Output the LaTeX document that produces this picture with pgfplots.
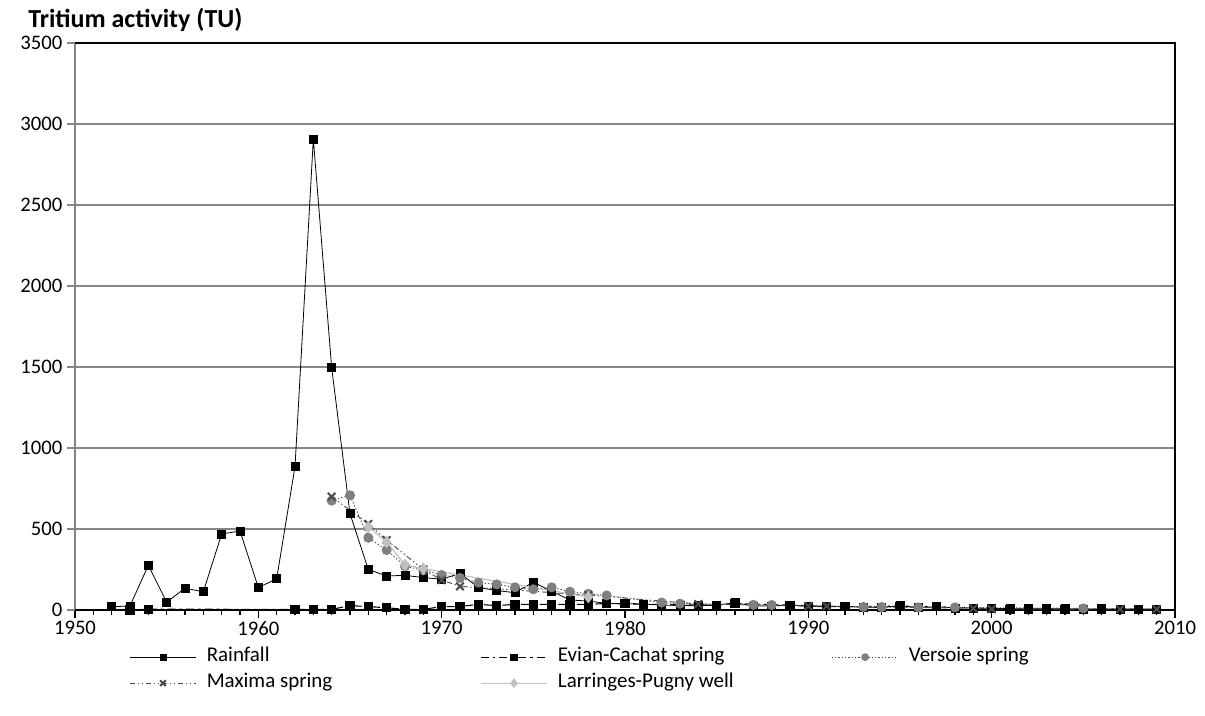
\documentclass[border=0pt]{standalone}
\usepackage{pgfplots}
\pgfplotsset{compat=1.18}
\usepackage{fontspec}
\setmainfont{Carlito}
\definecolor{gridgray}{RGB}{134,134,134}
\definecolor{vgray}{RGB}{128,128,128}
\definecolor{mgray}{RGB}{75,75,75}
\definecolor{lgray}{RGB}{192,192,192}
\begin{document}
\begin{tikzpicture}
\useasboundingbox (-56.25pt,-78.75pt) rectangle (847.5pt,457.5pt);
\begin{axis}[
  at={(0,0)}, anchor=south west,
  scale only axis, width=825pt, height=425.25pt,
  xmin=1950, xmax=2010, ymin=0, ymax=3500,
  xtick={1950,1960,...,2010}, ytick={0,500,...,3500},
  minor x tick num=9,
  xtick pos=bottom, ytick pos=left,
  tick align=outside,
  major tick length=6pt, minor tick length=4pt,
  x tick style={black, line width=1pt},
  y tick style={gridgray, line width=1pt},
  ymajorgrids, grid style={gridgray, line width=1pt},
  axis line style={draw=none},
  /pgf/number format/1000 sep={},
  /pgf/number format/assume math mode=true,
  tick label style={font=\fontsize{15.5}{18.5}\selectfont},
  xticklabel style={yshift=1pt},
  clip=false,
  legend columns=3,
  legend cell align=left,
  legend style={at={(0.049,-0.065)}, anchor=north west, draw=none, fill=none,
    inner sep=0pt, font=\fontsize{15.75}{19}\selectfont,
    nodes={inner sep=0pt, text height=11pt, text depth=4pt},
    row sep=4.5pt,
    /tikz/every odd column/.append style={column sep=7.5pt},
    /tikz/every even column/.append style={column sep=5pt}},
  legend image code/.code={\draw[mark repeat=2,mark phase=2,#1,every mark/.append style={scale=0.75}] plot coordinates {(0pt,0pt) (25pt,0pt) (50pt,0pt)};},
]
\draw[gridgray, line width=1.1pt] (rel axis cs:0,0) -- (rel axis cs:0,1);
\draw[black, line width=1.1pt] (rel axis cs:0,1) -- (rel axis cs:1,1) -- (rel axis cs:1,0);
\draw[black, line width=1.8pt] (rel axis cs:0,0) -- (rel axis cs:1,0);

\addplot[black, line width=0.6pt, mark=square*, mark size=3pt, mark options={solid}] coordinates {
(1952,20) (1953,25) (1954,276) (1955,49) (1956,134) (1957,113) (1958,469) (1959,488)
(1960,138) (1961,193) (1962,885) (1963,2907) (1964,1496) (1965,594) (1966,250) (1967,210)
(1968,214) (1969,200) (1970,190) (1971,226) (1972,139) (1973,120) (1974,107) (1975,172)
(1976,115) (1977,62) (1978,55) (1979,41) (1980,39) (1981,37) (1982,30) (1983,28)
(1984,26) (1985,31) (1986,44) (1987,25) (1988,24) (1989,31) (1990,22) (1991,20)
(1992,22) (1993,17) (1994,16) (1995,26) (1996,15) (1997,20) (1998,13) (1999,12)
(2000,10) (2001,8) (2002,8) (2003,7) (2004,7) (2005,6) (2006,7) (2007,6) (2008,6) (2009,5)
};
\addlegendentry{\makebox[200pt][l]{Rainfall}}

\addplot[black, line width=0.8pt, dash pattern=on 6pt off 3pt on 2pt off 3pt, mark=square*, mark size=3pt, mark options={solid}] coordinates {
(1953,0) (1954,5) (1962,4) (1963,4) (1964,4) (1965,27) (1966,21) (1967,14) (1968,4)
(1969,4) (1970,21) (1971,21) (1972,35) (1973,27) (1974,35) (1975,35) (1976,35) (1977,35)
(1978,35) (1979,40) (1980,38) (1981,36) (1985,30) (1986,40) (1989,30) (1992,20) (1995,24)
(1997,20) (2001,5) (2002,5) (2003,5) (2004,5) (2006,5) (2008,5)
};
\addlegendentry{\makebox[200pt][l]{Evian-Cachat spring}}

\addplot[mgray, line width=0.7pt, dash pattern=on 1pt off 1.5pt, mark=*, mark size=3.4pt, mark options={solid, draw=vgray, fill=vgray}] coordinates {
(1964,675) (1965,708) (1966,446) (1967,370) (1968,270) (1969,245) (1970,216) (1971,198)
(1972,169) (1973,158) (1974,140) (1975,128) (1976,140) (1977,113) (1978,100) (1979,90)
(1982,46) (1983,39) (1987,32) (1988,31) (1993,19) (1994,18) (1996,16) (1998,16) (2005,10)
};
\addlegendentry{\makebox[200pt][l]{Versoie spring}}

\addplot[mgray, line width=0.7pt, dash pattern=on 4pt off 2pt on 1pt off 2pt on 1pt off 2pt, mark=x, mark size=4pt, mark options={solid, line width=1.5pt}] coordinates {
(1964,700) (1966,531) (1967,432) (1969,250) (1970,185) (1971,146) (1978,92) (1984,37)
(1990,24) (1991,24) (1999,10) (2000,6) (2007,5) (2009,5)
};
\addlegendentry{\makebox[200pt][l]{Maxima spring}}

\addplot[lgray, line width=0.9pt, mark=diamond*, mark size=4pt, mark options={solid, draw=lgray, fill=lgray}] coordinates {
(1966,512) (1967,420) (1968,278) (1969,255) (1978,80)
};
\addlegendentry{\makebox[200pt][l]{Larringes-Pugny well}}
\end{axis}
\node[anchor=base west, inner sep=0pt, font=\bfseries\fontsize{19.5}{22}\selectfont] at (-35.25pt,436.5pt) {Tritium activity (TU)};
\end{tikzpicture}
\end{document}
